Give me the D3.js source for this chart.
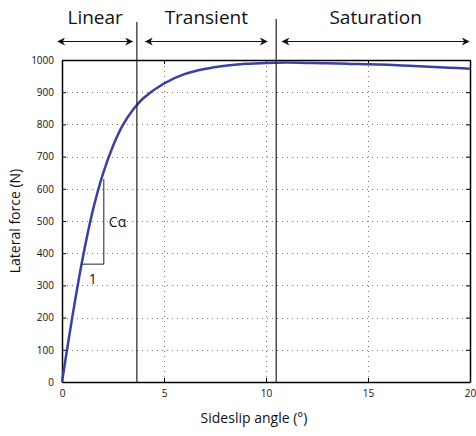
<!DOCTYPE html>
<html lang="en">
<head>
<meta charset="UTF-8">
<title>Lateral force vs sideslip angle</title>
<style>
  body { margin: 0; background: #fff; }
  text { font-family: "Open Sans", "DejaVu Sans", sans-serif; fill: #111; }
  .grid line { stroke: #777; stroke-dasharray: 1,4; shape-rendering: crispEdges; }
</style>
</head>
<body>
<div id="chart"></div>
<script src="https://cdn.jsdelivr.net/npm/d3@7"></script>
<script>
// data
const angles = [0, 0.5, 1, 1.5, 2, 2.5, 3, 3.5, 4, 5, 6, 7, 8, 9, 10, 11, 12, 13, 14, 15, 16, 17, 18, 19, 20];
const forces = [0, 200, 380, 530, 645, 733, 800, 847, 882, 927, 956, 972, 982, 988, 991, 992, 991, 990, 988, 987, 985, 982, 979, 976, 973];
const xTicks = [0, 5, 10, 15, 20];
const yTicks = [0, 100, 200, 300, 400, 500, 600, 700, 800, 900, 1000];
const regionBounds = [3.67, 10.5];
const regions = [
  { name: "Linear", from: -0.2, to: 3.45 },
  { name: "Transient", from: 4.1, to: 10.05 },
  { name: "Saturation", from: 10.8, to: 19.95 }
];
const slopeTri = { x0: 0.96, x1: 2.05, y0: 366, y1: 630 };

const width = 476, height = 436;
const m = { top: 60, right: 6, bottom: 54, left: 62 };

const svg = d3.select("#chart").append("svg").attr("width", width).attr("height", height);

const x = d3.scaleLinear().domain([0, 20]).range([m.left, width - m.right]);
const y = d3.scaleLinear().domain([0, 1000]).range([height - m.bottom, m.top]);

// dotted grid
const grid = svg.append("g").attr("class", "grid");
grid.selectAll(".gy").data(yTicks.slice(1, -1)).enter().append("line")
  .attr("x1", x(0)).attr("x2", x(20)).attr("y1", d => Math.round(y(d)) + 0.5).attr("y2", d => Math.round(y(d)) + 0.5);
grid.selectAll(".gx").data(xTicks.slice(1, -1)).enter().append("line")
  .attr("y1", y(0)).attr("y2", y(1000)).attr("x1", d => Math.round(x(d)) + 0.5).attr("x2", d => Math.round(x(d)) + 0.5);

// axes, ticks inside like matlab
const fmt = d3.format("d");
const axB = svg.append("g").attr("transform", `translate(0,${y(0)})`)
  .call(d3.axisBottom(x).tickValues(xTicks).tickSizeInner(-4).tickSizeOuter(0).tickPadding(8).tickFormat(fmt));
const axL = svg.append("g").attr("transform", `translate(${x(0)},0)`)
  .call(d3.axisLeft(y).tickValues(yTicks).tickSizeInner(-4).tickSizeOuter(0).tickPadding(8).tickFormat(fmt));
const axT = svg.append("g").attr("transform", `translate(0,${y(1000)})`)
  .call(d3.axisTop(x).tickValues(xTicks).tickSizeInner(-4).tickSizeOuter(0).tickFormat(""));
const axR = svg.append("g").attr("transform", `translate(${x(20)},0)`)
  .call(d3.axisRight(y).tickValues(yTicks).tickSizeInner(-4).tickSizeOuter(0).tickFormat(""));
[axB, axL, axT, axR].forEach(a => {
  a.select(".domain").attr("stroke", "#000").attr("stroke-width", 1.5);
  a.selectAll(".tick line").attr("stroke", "#000");
  a.selectAll("text").style("font-size", "10px").attr("fill", "#111");
});

// curve
const pts = angles.map((a, i) => [a, forces[i]]);
svg.append("path").datum(pts)
  .attr("fill", "none").attr("stroke", "#3b3f9e").attr("stroke-width", 2.5)
  .attr("d", d3.line().x(d => x(d[0])).y(d => y(d[1])).curve(d3.curveCatmullRom.alpha(0.5)));

// slope triangle
svg.append("path")
  .attr("d", `M${x(slopeTri.x0)},${y(slopeTri.y0)} H${x(slopeTri.x1)} V${y(slopeTri.y1)}`)
  .attr("fill", "none").attr("stroke", "#222").attr("stroke-width", 1);
svg.append("text").attr("x", x(slopeTri.x1) + 5).attr("y", (y(slopeTri.y0) + y(slopeTri.y1)) / 2 + 5)
  .style("font-size", "14px").text("Cα");
svg.append("text").attr("x", (x(slopeTri.x0) + x(slopeTri.x1)) / 2).attr("y", y(slopeTri.y0) + 20)
  .attr("text-anchor", "middle").style("font-size", "14px").text("1");

// region boundaries
svg.selectAll(".bound").data(regionBounds).enter().append("line")
  .attr("x1", d => x(d)).attr("x2", d => x(d))
  .attr("y1", (d, i) => i === 0 ? 22 : 19).attr("y2", y(0))
  .attr("stroke", "#222").attr("stroke-width", 1.2);

// arrows
const defs = svg.append("defs");
defs.append("marker").attr("id", "ah").attr("viewBox", "0 0 10 10")
  .attr("refX", 9).attr("refY", 5).attr("markerWidth", 10).attr("markerHeight", 8)
  .attr("markerUnits", "userSpaceOnUse").attr("orient", "auto-start-reverse")
  .append("path").attr("d", "M0,0 L10,5 L0,10 L3,5 Z").attr("fill", "#111");

const arrowY = 41.5;
svg.selectAll(".arr").data(regions).enter().append("line")
  .attr("x1", d => x(d.from)).attr("x2", d => x(d.to))
  .attr("y1", arrowY).attr("y2", arrowY)
  .attr("stroke", "#111").attr("stroke-width", 1.2)
  .attr("marker-start", "url(#ah)").attr("marker-end", "url(#ah)");
svg.selectAll(".rlab").data(regions).enter().append("text")
  .attr("x", d => (x(d.from) + x(d.to)) / 2).attr("y", 24)
  .attr("text-anchor", "middle").style("font-size", "19px").text(d => d.name);

// axis titles
svg.append("text").attr("x", (x(0) + x(20)) / 2 - 12).attr("y", 423)
  .attr("text-anchor", "middle").style("font-size", "14px").text("Sideslip angle (°)");
svg.append("text").attr("transform", `translate(20,${(y(0) + y(1000)) / 2}) rotate(-90)`)
  .attr("text-anchor", "middle").style("font-size", "14px").text("Lateral force (N)");
</script>
</body>
</html>
